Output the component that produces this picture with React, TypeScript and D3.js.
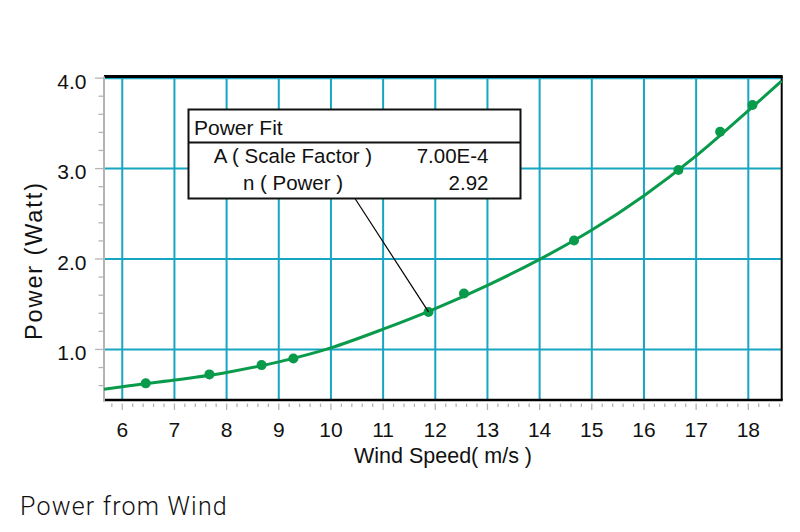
import React from "react";
import * as d3 from "d3";

// Fitted curve samples (wind speed m/s -> power W)
const curveX = [5.65, 6, 7, 8, 9, 10, 11, 12, 13, 14, 15, 16, 17, 18, 18.64];
const curveY = [0.559, 0.588, 0.661, 0.746, 0.863, 1.018, 1.224, 1.452, 1.709, 1.996, 2.32, 2.70, 3.14, 3.64, 3.97];

// Measured points
const pointX = [6.45, 7.67, 8.67, 9.28, 11.87, 12.55, 14.66, 16.66, 17.46, 18.08];
const pointY = [0.625, 0.724, 0.827, 0.90, 1.415, 1.618, 2.205, 2.985, 3.408, 3.703];

const xTicks = [6, 7, 8, 9, 10, 11, 12, 13, 14, 15, 16, 17, 18];
const yTicks = [1.0, 2.0, 3.0, 4.0];

const fitTitle = "Power Fit";
const fitLabels = ["A ( Scale Factor )", "n ( Power )"];
const fitValues = ["7.00E-4", "2.92"];
const annotatedIndex = 4;

const FONT = "'Liberation Sans', Arial, Helvetica, sans-serif";

export default function App() {
  const W = 800, H = 532;
  const left = 104, right = 781.7, top = 76.5, bottom = 400;
  const x = d3.scaleLinear().domain([5.65, 18.64]).range([left, right]);
  const y = d3.scaleLinear().domain([0.441, 4.018]).range([bottom, top]);

  const minorX = d3.range(5.8, 18.64, 0.2).filter(v => Math.abs(v - Math.round(v)) > 0.01);
  const minorY = d3.range(0.6, 4.01, 0.2).filter(v => Math.abs(v - Math.round(v)) > 0.01);

  const line = d3.line<number>()
    .x((_, i) => x(curveX[i]))
    .y(d => y(d))
    .curve(d3.curveMonotoneX);

  const grid = "#17a6c2";
  const green = "#0a9a4c";
  const gray = "#b4b4b4";

  const box = { x: 188.5, y: 109.5, w: 332, h: 89 };

  return (
    <svg width={W} height={H} style={{ position: "absolute", left: 0, top: 0, background: "#fff" }}>
      <rect x={0} y={0} width={W} height={H} fill="#fff" />
      {/* grid */}
      {xTicks.map(t => (
        <line key={"gx" + t} x1={x(t)} x2={x(t)} y1={top} y2={bottom} stroke={grid} strokeWidth={2} />
      ))}
      {yTicks.map(t => (
        <line key={"gy" + t} x1={left} x2={right} y1={y(t)} y2={y(t)} stroke={grid} strokeWidth={2} />
      ))}
      {/* frame */}
      <line x1={left} x2={right + 1} y1={top} y2={top} stroke="#000" strokeWidth={3} />
      <line x1={right} x2={right} y1={top} y2={bottom} stroke="#000" strokeWidth={2} />
      <line x1={left - 1} x2={right + 1} y1={bottom} y2={bottom} stroke="#000" strokeWidth={2.5} />
      <line x1={left} x2={left} y1={top} y2={bottom + 1} stroke={gray} strokeWidth={2} />

      {/* x ticks */}
      {minorX.map((t, i) => (
        <line key={"mx" + i} x1={x(t)} x2={x(t)} y1={403.5} y2={407} stroke={gray} strokeWidth={1.3} />
      ))}
      {xTicks.map(t => (
        <line key={"tx" + t} x1={x(t)} x2={x(t)} y1={403.5} y2={410} stroke={gray} strokeWidth={1.3} />
      ))}
      {xTicks.map(t => (
        <text key={"lx" + t} x={x(t)} y={436.5} textAnchor="middle" fontFamily={FONT} fontSize={21} fill="#111">
          {t}
        </text>
      ))}
      {/* y ticks */}
      {minorY.map((t, i) => (
        <line key={"my" + i} x1={98.5} x2={left} y1={y(t)} y2={y(t)} stroke={gray} strokeWidth={1.3} />
      ))}
      {yTicks.map(t => (
        <line key={"ty" + t} x1={95} x2={left} y1={y(t)} y2={y(t)} stroke={gray} strokeWidth={1.3} />
      ))}
      {yTicks.map(t => (
        <text key={"ly" + t} x={86.5} y={y(t) + 10.5} textAnchor="end" fontFamily={FONT} fontSize={21} fill="#111">
          {d3.format(".1f")(t)}
        </text>
      ))}

      {/* axis titles */}
      <text x={443} y={463} textAnchor="middle" fontFamily={FONT} fontSize={21.5} fill="#111">Wind Speed( m/s )</text>
      <text transform={`translate(42,261.5) rotate(-90)`} textAnchor="middle" fontFamily={FONT} fontSize={23.5} fill="#111"
        textLength={157} lengthAdjust="spacing">Power (Watt)</text>

      {/* fitted curve */}
      <path d={line(curveY) || ""} fill="none" stroke={green} strokeWidth={3} />
      {/* points */}
      {pointX.map((px, i) => (
        <circle key={"p" + i} cx={x(px)} cy={y(pointY[i])} r={5} fill={green} />
      ))}

      {/* annotation leader */}
      <line x1={355} y1={box.y + box.h} x2={x(pointX[annotatedIndex])} y2={y(pointY[annotatedIndex])} stroke="#000" strokeWidth={1.2} />
      {/* fit box */}
      <rect x={box.x} y={box.y} width={box.w} height={box.h} fill="#fff" stroke="#111" strokeWidth={2} />
      <line x1={box.x} x2={box.x + box.w} y1={142.5} y2={142.5} stroke="#111" strokeWidth={2} />
      <text x={194} y={135} fontFamily={FONT} fontSize={21} fill="#111">{fitTitle}</text>
      {fitLabels.map((l, i) => (
        <text key={"fl" + i} x={293} y={162.5 + i * 27.5} textAnchor="middle" fontFamily={FONT} fontSize={20.5} fill="#111">{l}</text>
      ))}
      {fitValues.map((v, i) => (
        <text key={"fv" + i} x={488.5} y={162.5 + i * 27.5} textAnchor="end" fontFamily={FONT} fontSize={20.5} fill="#111">{v}</text>
      ))}

      {/* caption */}
      <text x={20} y={515} fontFamily="Roboto, 'Open Sans', sans-serif" fontWeight={300} fontSize={25} letterSpacing={1.2} fill="#111">
        Power from Wind
      </text>
    </svg>
  );
}
